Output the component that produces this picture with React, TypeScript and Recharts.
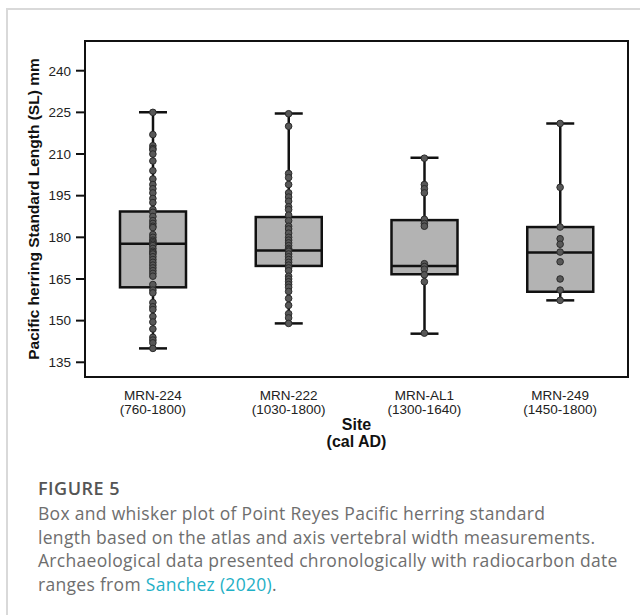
import React from 'react';
import {
  ComposedChart,
  Bar,
  Scatter,
  XAxis,
  YAxis,
  ReferenceArea,
} from 'recharts';

// sites in chronological order, with radiocarbon ranges
const sites = ['MRN-224', 'MRN-222', 'MRN-AL1', 'MRN-249'];
const dateRanges = ['(760-1800)', '(1030-1800)', '(1300-1640)', '(1450-1800)'];

// box statistics (mm)
const mins = [140, 149, 145.3, 157.3];
const q1s = [162, 169.7, 166.7, 160.4];
const medians = [177.7, 175.3, 169.7, 174.5];
const q3s = [189.3, 187.3, 186.2, 183.7];
const maxs = [225, 224.6, 208.7, 221];

// individual measurements (estimated from the dots)
const mrn224 = [
  225, 217, 213, 212, 211.5, 210, 207.5, 204, 201, 199, 197.5, 196, 194, 192.5, 190,
  189, 187.5, 186, 185, 184, 183.5, 181, 180, 179, 178.5, 178, 177.5, 177, 176, 175,
  174.5, 174, 173, 172, 171, 170, 169, 168, 167, 166, 163, 161, 160, 156.5, 155, 154,
  151.5, 149.5, 147, 144, 143, 142, 140,
];
const mrn222 = [
  224.5, 220, 203, 201.5, 199, 196, 194.5, 193, 191, 190, 188, 186, 184, 183, 181.5,
  180, 179, 178, 177, 176, 175.5, 175, 174, 173, 172, 171, 170, 169, 168, 166, 165,
  164, 163, 162, 160.5, 158, 155.5, 152.5, 151, 149,
];
const mrnAL1 = [208.5, 199, 197.5, 196, 186.5, 185, 184, 170.5, 169.5, 168.5, 166.5, 164, 145.5];
const mrn249 = [221, 198, 183.7, 179.5, 177.5, 174.7, 171.2, 165, 161, 157.3];
const pointValues = [mrn224, mrn222, mrnAL1, mrn249];

const yTicks = [135, 150, 165, 180, 195, 210, 225, 240];
const yDomain: [number, number] = [129.7, 250.7];

const boxData = sites.map((site, i) => ({
  site,
  box: [q1s[i], q3s[i]],
  whisker: [mins[i], maxs[i]],
  median: medians[i],
}));

const points = sites.flatMap((site, i) => pointValues[i].map((v) => ({ site, value: v })));

const INK = '#111';
const FONT = '"Liberation Sans", Arial, sans-serif';

const BoxShape = (props: any) => {
  const { x, y, width, height } = props;
  const top = Math.min(y, y + height);
  return (
    <rect x={x} y={top} width={width} height={Math.abs(height)} fill="#b3b3b3" stroke={INK} strokeWidth={2.5} />
  );
};

const WhiskerShape = (props: any) => {
  const { x, y, width, height } = props;
  const top = Math.min(y, y + height);
  const bottom = Math.max(y, y + height);
  const cx = x + width / 2;
  return (
    <g stroke={INK} strokeWidth={2.5}>
      <line x1={cx} x2={cx} y1={top} y2={bottom} />
      <line x1={x} x2={x + width} y1={top} y2={top} />
      <line x1={x} x2={x + width} y1={bottom} y2={bottom} />
    </g>
  );
};

const MedianShape = (props: any) => {
  const { cx, cy } = props;
  return <line x1={cx - 33} x2={cx + 33} y1={cy} y2={cy} stroke={INK} strokeWidth={2.5} />;
};

const Dot = (props: any) => {
  const { cx, cy } = props;
  return <circle cx={cx} cy={cy} r={3.3} fill="#585858" stroke="#2b2b2b" strokeWidth={1} />;
};

const SiteTick = (props: any) => {
  const { x, y, payload } = props;
  const idx = sites.indexOf(payload.value);
  return (
    <g>
      <text x={x} y={y + 23} textAnchor="middle" fontSize={13.5} fill="#222" fontFamily={FONT}>
        {payload.value}
      </text>
      <text x={x} y={y + 37} textAnchor="middle" fontSize={13.5} fill="#222" fontFamily={FONT}>
        {dateRanges[idx]}
      </text>
    </g>
  );
};

const SiteLabel = (props: any) => {
  const { viewBox } = props;
  const cx = viewBox.x + viewBox.width / 2;
  return (
    <g>
      <text x={cx} y={430} textAnchor="middle" fontSize={16} fontWeight="bold" fill="#111" fontFamily={FONT}>
        Site
      </text>
      <text x={cx} y={447} textAnchor="middle" fontSize={16} fontWeight="bold" fill="#111" fontFamily={FONT}>
        (cal AD)
      </text>
    </g>
  );
};

const LengthLabel = (props: any) => {
  const { viewBox } = props;
  const cy = viewBox.y + viewBox.height / 2;
  return (
    <text
      x={39}
      y={cy}
      transform={`rotate(-90, 39, ${cy})`}
      textAnchor="middle"
      fontSize={15.5}
      fontWeight="bold"
      fill="#111"
      fontFamily={FONT}
    >
      Pacific herring Standard Length (SL) mm
    </text>
  );
};

const App: React.FC = () => {
  return (
    <div style={{ position: 'absolute', left: 0, top: 0, width: 640, height: 615, background: '#fff', overflow: 'hidden' }}>
      <div
        style={{
          position: 'absolute',
          left: 6,
          top: 8,
          right: 0,
          bottom: 0,
          borderTop: '2px solid #d9d9d9',
          borderLeft: '2px solid #d9d9d9',
        }}
      />
      <div style={{ position: 'absolute', left: 0, top: 0 }}>
        <ComposedChart width={640} height={460} data={boxData} margin={{ top: 41, right: 12, bottom: 0, left: 30 }}>
          <XAxis
            dataKey="site"
            type="category"
            allowDuplicatedCategory={false}
            interval={0}
            height={83}
            tickLine={false}
            tickSize={0}
            tickMargin={0}
            axisLine={{ stroke: INK, strokeWidth: 2 }}
            tick={<SiteTick />}
            label={<SiteLabel />}
          />
          <XAxis xAxisId="w" dataKey="site" type="category" allowDuplicatedCategory={false} hide />
          <YAxis
            type="number"
            domain={yDomain}
            ticks={yTicks}
            allowDataOverflow
            width={55}
            tickSize={9}
            tickMargin={5}
            tickLine={{ stroke: INK, strokeWidth: 2 }}
            axisLine={{ stroke: INK, strokeWidth: 2 }}
            tick={{ fontSize: 13.5, fill: '#222', fontFamily: FONT }}
            label={<LengthLabel />}
          />
          <ReferenceArea y1={yDomain[0]} y2={yDomain[1]} fill="none" stroke={INK} strokeWidth={2} ifOverflow="visible" />
          <Bar xAxisId="w" dataKey="whisker" barSize={28} shape={<WhiskerShape />} isAnimationActive={false} />
          <Bar dataKey="box" barSize={66} shape={<BoxShape />} isAnimationActive={false} />
          <Scatter data={boxData} dataKey="median" shape={<MedianShape />} isAnimationActive={false} />
          <Scatter data={points} dataKey="value" shape={<Dot />} isAnimationActive={false} />
        </ComposedChart>
      </div>
      <div
        style={{
          position: 'absolute',
          left: 38,
          top: 476,
          width: 600,
          fontFamily: '"Open Sans", Lato, sans-serif',
          color: '#6e6e6e',
          whiteSpace: 'nowrap',
          letterSpacing: '0.3px',
        }}
      >
        <div style={{ fontSize: 18, lineHeight: '24px', fontWeight: 600, color: '#555', letterSpacing: '0.5px' }}>
          FIGURE 5
        </div>
        <div style={{ fontSize: 17.5, lineHeight: '23.5px', marginTop: 2 }}>
          Box and whisker plot of Point Reyes Pacific herring standard
          <br />
          length based on the atlas and axis vertebral width measurements.
          <br />
          Archaeological data presented chronologically with radiocarbon date
          <br />
          ranges from <span style={{ color: '#1fb0c6' }}>Sanchez (2020)</span>.
        </div>
      </div>
    </div>
  );
};

export default App;
